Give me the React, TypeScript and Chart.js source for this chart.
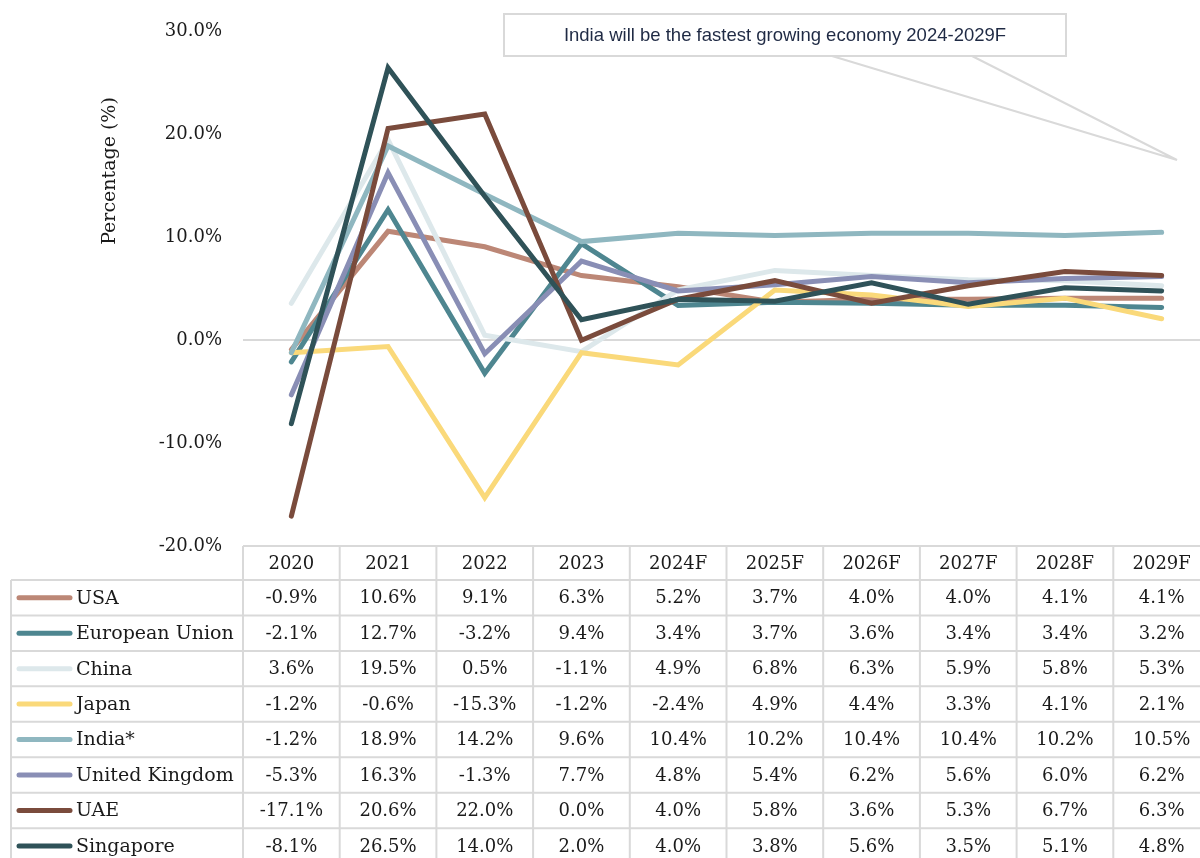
import React, { useEffect, useRef } from "react";
import { Chart, registerables } from "chart.js";

Chart.register(...registerables);

const categories = ["2020", "2021", "2022", "2023", "2024F", "2025F", "2026F", "2027F", "2028F", "2029F"];
const seriesNames = ["USA", "European Union", "China", "Japan", "India*", "United Kingdom", "UAE", "Singapore"];
const usa = [-0.9, 10.6, 9.1, 6.3, 5.2, 3.7, 4.0, 4.0, 4.1, 4.1];
const eu = [-2.1, 12.7, -3.2, 9.4, 3.4, 3.7, 3.6, 3.4, 3.4, 3.2];
const china = [3.6, 19.5, 0.5, -1.1, 4.9, 6.8, 6.3, 5.9, 5.8, 5.3];
const japan = [-1.2, -0.6, -15.3, -1.2, -2.4, 4.9, 4.4, 3.3, 4.1, 2.1];
const india = [-1.2, 18.9, 14.2, 9.6, 10.4, 10.2, 10.4, 10.4, 10.2, 10.5];
const uk = [-5.3, 16.3, -1.3, 7.7, 4.8, 5.4, 6.2, 5.6, 6.0, 6.2];
const uae = [-17.1, 20.6, 22.0, 0.0, 4.0, 5.8, 3.6, 5.3, 6.7, 6.3];
const singapore = [-8.1, 26.5, 14.0, 2.0, 4.0, 3.8, 5.6, 3.5, 5.1, 4.8];
const seriesValues = [usa, eu, china, japan, india, uk, uae, singapore];
const seriesColors = ["#BC8776", "#4E8690", "#DDE8EB", "#FAD97A", "#8FB7C0", "#898EB5", "#7A4B3C", "#2F5258"];
const yTicks = [-20, -10, 0, 10, 20, 30];
const calloutText = "India will be the fastest growing economy 2024-2029F";
const yTitle = "Percentage (%)";

const SERIF = "'DejaVu Serif', serif";
const GRID = "#d9d9d9";
const TEXT = "#1a1a1a";

const tablePlugin = {
  id: "tablePlugin",
  afterDraw(chart: any) {
    const ctx = chart.ctx;
    const area = chart.chartArea;
    const xs = chart.scales.x;
    const n = categories.length;
    const colW = (area.right - area.left) / n;
    const headerTop = area.bottom;
    const headerH = 34;
    const rowH = 35.45;
    const rowsTop = headerTop + headerH;
    const legendLeft = 11;
    ctx.save();
    // grid lines
    ctx.strokeStyle = GRID;
    ctx.lineWidth = 2;
    ctx.beginPath();
    ctx.moveTo(area.left, headerTop);
    ctx.lineTo(chart.width, headerTop);
    for (let r = 0; r <= seriesNames.length; r++) {
      const y = rowsTop + r * rowH;
      ctx.moveTo(legendLeft, y);
      ctx.lineTo(chart.width, y);
    }
    for (let c = 0; c <= n; c++) {
      const x = area.left + c * colW;
      ctx.moveTo(x, headerTop);
      ctx.lineTo(x, chart.height);
    }
    ctx.moveTo(legendLeft, rowsTop);
    ctx.lineTo(legendLeft, chart.height);
    ctx.stroke();

    ctx.fillStyle = TEXT;
    ctx.font = "18px " + SERIF;
    ctx.textAlign = "center";
    ctx.textBaseline = "middle";
    categories.forEach((cat, i) => {
      const x = xs.getPixelForValue(i);
      ctx.fillText(cat, x, headerTop + headerH / 2 + 1);
    });
    seriesValues.forEach((vals, r) => {
      const yc = rowsTop + r * rowH + rowH / 2 + 1;
      vals.forEach((v, i) => {
        const x = xs.getPixelForValue(i);
        ctx.fillText(v.toFixed(1) + "%", x, yc);
      });
    });
    // legend keys
    ctx.textAlign = "left";
    ctx.font = "19px " + SERIF;
    seriesNames.forEach((name, r) => {
      const yc = rowsTop + r * rowH + rowH / 2;
      ctx.strokeStyle = seriesColors[r];
      ctx.lineWidth = 5;
      ctx.lineCap = "round";
      ctx.beginPath();
      ctx.moveTo(19, yc);
      ctx.lineTo(70, yc);
      ctx.stroke();
      ctx.fillStyle = TEXT;
      ctx.fillText(name, 76, yc + 1);
    });

    // y title
    ctx.save();
    ctx.translate(110, 171);
    ctx.rotate(-Math.PI / 2);
    ctx.textAlign = "center";
    ctx.textBaseline = "middle";
    ctx.font = "19px " + SERIF;
    ctx.fillStyle = TEXT;
    ctx.fillText(yTitle, 0, 0);
    ctx.restore();

    // callout
    const bx = 504, by = 14, bw = 562, bh = 42;
    ctx.lineCap = "butt";
    ctx.strokeStyle = GRID;
    ctx.lineWidth = 2;
    ctx.beginPath();
    ctx.moveTo(832, by + bh);
    ctx.lineTo(1177, 160);
    ctx.lineTo(972, by + bh);
    ctx.stroke();
    ctx.fillStyle = "#ffffff";
    ctx.fillRect(bx, by, bw, bh);
    ctx.strokeRect(bx, by, bw, bh);
    ctx.fillStyle = "#1F2A44";
    ctx.font = "18.5px 'Liberation Sans', Arial, sans-serif";
    ctx.textAlign = "center";
    ctx.textBaseline = "middle";
    ctx.fillText(calloutText, bx + bw / 2, by + bh / 2 + 1);
    ctx.restore();
  },
};

export default function App() {
  const ref = useRef<HTMLCanvasElement | null>(null);
  useEffect(() => {
    document.body.style.margin = "0";
    const canvas = ref.current!;
    const chart = new Chart(canvas, {
      type: "line",
      data: {
        labels: categories,
        datasets: seriesNames.map((name, i) => ({
          label: name,
          data: seriesValues[i],
          borderColor: seriesColors[i],
          backgroundColor: seriesColors[i],
          borderWidth: 5,
          pointRadius: 0,
          tension: 0,
          borderCapStyle: "round",
          borderJoinStyle: "miter",
          order: seriesNames.length - i,
        })),
      },
      options: {
        animation: false,
        responsive: false,
        devicePixelRatio: 1,
        layout: { padding: { left: 0, top: 31, right: 2, bottom: 312 } },
        plugins: { legend: { display: false }, tooltip: { enabled: false }, title: { display: false } },
        scales: {
          x: { type: "category", display: false, offset: true },
          y: {
            min: -20,
            max: 30,
            afterBuildTicks: (s: any) => {
              s.ticks = yTicks.map((v) => ({ value: v }));
            },
            afterFit: (s: any) => {
              s.width = 243;
            },
            border: { display: false },
            grid: {
              drawTicks: false,
              lineWidth: 2,
              color: (c: any) => (c.tick && c.tick.value === 0 ? GRID : "rgba(0,0,0,0)"),
            },
            ticks: {
              padding: 21,
              color: TEXT,
              font: { family: SERIF, size: 18 },
              callback: (v: any) => Number(v).toFixed(1) + "%",
            },
          },
        },
      },
      plugins: [tablePlugin],
    });
    return () => chart.destroy();
  }, []);
  return (
    <div style={{ position: "absolute", left: 0, top: 0, width: 1200, height: 858, overflow: "hidden", background: "#fff" }}>
      <canvas ref={ref} width={1212} height={858} style={{ width: 1212, height: 858, display: "block" }} />
    </div>
  );
}
